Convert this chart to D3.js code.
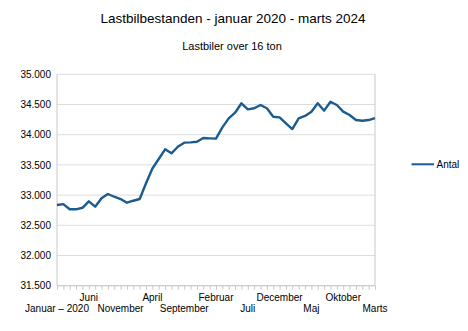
<!DOCTYPE html>
<html><head><meta charset="utf-8">
<script src="https://cdn.jsdelivr.net/npm/d3@7"></script>
<style>body{margin:0;background:#fff}svg{display:block}text{font-family:"Liberation Sans",Arial,sans-serif;fill:#000}</style>
</head><body><svg id="c" width="468" height="331"></svg>
<script>
const months = ["Januar","Februar","Marts","April","Maj","Juni","Juli","August","September","Oktober","November","December"];
const startYear = 2020;
const values = [32836,32850,32765,32765,32790,32897,32808,32947,33018,32973,32935,32874,
  32907,32935,33195,33440,33598,33758,33692,33801,33868,33873,33884,33945,
  33940,33935,34122,34271,34364,34520,34420,34437,34492,34437,34298,34287,
  34189,34094,34271,34310,34381,34520,34398,34546,34492,34381,34326,34243,
  34232,34243,34276];
const yTicks = [31500,32000,32500,33000,33500,34000,34500,35000];
const seriesName = "Antal";
const title = "Lastbilbestanden - januar 2020 - marts 2024";
const subtitle = "Lastbiler over 16 ton";

const labels = values.map((v,i)=> i===0 ? "Januar \u2013 2020" : months[i%12]);
const svg = d3.select("#c");
const L=57, R=375, T=74.3, B=285.7;
const x = d3.scaleLinear().domain([0, values.length-1]).range([L,R]);
const y = d3.scaleLinear().domain([31500,35000]).range([B,T]);

svg.append("text").attr("x",233).attr("y",23).attr("text-anchor","middle").style("font-size","13.5px").text(title);
svg.append("text").attr("x",232).attr("y",50).attr("text-anchor","middle").style("font-size","11px").text(subtitle);

// grid
svg.append("g").selectAll("line").data(yTicks).join("line")
  .attr("x1",L).attr("x2",R).attr("y1",d=>y(d)).attr("y2",d=>y(d))
  .attr("stroke","#dcdcdc").attr("stroke-width",1);
// frame lines
svg.append("line").attr("x1",L).attr("x2",L).attr("y1",T).attr("y2",B).attr("stroke","#c8c8c8");
svg.append("line").attr("x1",R).attr("x2",R).attr("y1",T).attr("y2",B).attr("stroke","#c8c8c8");
svg.append("line").attr("x1",L).attr("x2",R).attr("y1",B).attr("y2",B).attr("stroke","#c8c8c8");

// y axis labels
const fmt = d => d3.format(",")(d).replace(/,/g,".");
const ya = d3.axisLeft(y).tickValues(yTicks).tickFormat(fmt).tickSize(0).tickPadding(6);
const yg = svg.append("g").attr("transform",`translate(${L},0)`).call(ya);
yg.select(".domain").remove();
yg.selectAll("text").style("font-size","10px").style("font-family","'Liberation Sans',Arial,sans-serif").attr("fill","#000");

// x ticks
const xa = d3.axisBottom(x).tickValues(d3.range(values.length)).tickSize(4).tickFormat("");
const xg = svg.append("g").attr("transform",`translate(0,${B})`).call(xa);
xg.select(".domain").remove();
xg.selectAll("line").attr("stroke","#c8c8c8");
const lab = d3.range(0, values.length, 5);
svg.append("g").selectAll("text").data(lab).join("text")
  .attr("x",d=>x(d)).attr("y",(d,k)=> k%2===0 ? 311.5 : 300.5)
  .attr("text-anchor","middle").style("font-size","10px").text(d=>labels[d]);

// line
svg.append("path").datum(values)
  .attr("d", d3.line().x((d,i)=>x(i)).y(d=>y(d)))
  .attr("fill","none").attr("stroke","#1a5c90").attr("stroke-width",2.4).attr("stroke-linejoin","round");

// legend
svg.append("line").attr("x1",411.5).attr("x2",434).attr("y1",164.3).attr("y2",164.3).attr("stroke","#1a5c90").attr("stroke-width",2);
svg.append("text").attr("x",436.5).attr("y",168).style("font-size","10px").text(seriesName);
</script></body></html>
